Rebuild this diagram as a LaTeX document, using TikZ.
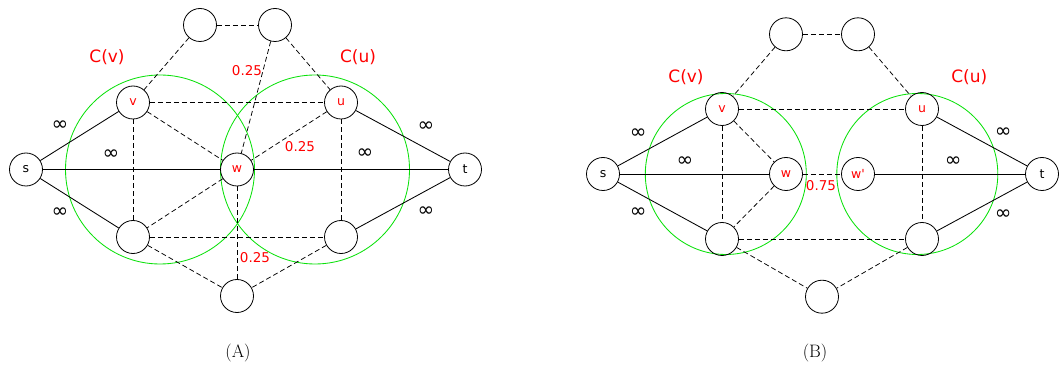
\documentclass[tikz,border=0pt]{standalone}
\usepackage{fontspec}
\newfontfamily\dv{DejaVu Sans}
\definecolor{cgreen}{RGB}{10,225,10}
\begin{document}
\begin{tikzpicture}[x=1pt,y=-1pt,
  vtx/.style={circle,draw,line width=0.8pt,minimum size=33pt,inner sep=0pt,font=\dv\fontsize{12.5}{12.5}\selectfont},
  rv/.style={vtx,text=red},
  dsh/.style={dashed,dash pattern=on 5pt off 3pt,line width=0.75pt},
  sld/.style={line width=0.85pt},
  clus/.style={draw=cgreen,line width=0.85pt},
  clab/.style={text=red,font=\dv\fontsize{17}{17}\selectfont},
  wlab/.style={text=red,font=\dv\fontsize{13.5}{13.5}\selectfont},
  inf/.style={font=\dv\fontsize{20}{20}\selectfont},
  captxt/.style={font=\fontsize{18}{18}\selectfont}]
\useasboundingbox (0,0) rectangle (1063,366);
% ---------- Panel A ----------
\draw[clus] (160,169.5) circle (94.5);
\draw[clus] (315,169.5) circle (94.5);
\node[vtx] (As) at (26,169.5) {s};
\node[rv] (Av) at (133,102.5) {v};
\node[rv] (Au) at (341,102.5) {u};
\node[rv] (Aw) at (237,169.5) {w};
\node[vtx] (At) at (465,169.5) {t};
\node[vtx] (Abl) at (133,237) {};
\node[vtx] (Abr) at (341,237) {};
\node[vtx] (Ab) at (237,296) {};
\node[vtx] (Atl) at (200,25) {};
\node[vtx] (Atr) at (275,25) {};
\draw[dsh] (Atl) -- (Atr);
\draw[dsh] (Atl) -- (Av);
\draw[dsh] (Atr) -- (Au);
\draw[dsh] (Atr) -- (Aw);
\draw[dsh] (Av) -- (Au);
\draw[dsh] (Av) -- (Aw);
\draw[dsh] (Av) -- (Abl);
\draw[dsh] (Au) -- (Aw);
\draw[dsh] (Au) -- (Abr);
\draw[dsh] (Aw) -- (Abl);
\draw[dsh] (Aw) -- (Ab);
\draw[dsh] (Abl) -- (Abr);
\draw[dsh] (Abl) -- (Ab);
\draw[dsh] (Abr) -- (Ab);
\draw[sld] (As) -- (Av);
\draw[sld] (As) -- (Aw);
\draw[sld] (As) -- (Abl);
\draw[sld] (Aw) -- (At);
\draw[sld] (Au) -- (At);
\draw[sld] (Abr) -- (At);
\node[clab] (ACv) at (107,57) {C(v)};
\node[clab] (ACu) at (358,57) {C(u)};
\node[inf] (Ai1) at (60,126) {∞};
\node[inf] (Ai2) at (111,155) {∞};
\node[inf] (Ai3) at (60,213) {∞};
\node[inf] (Ai4) at (426,127) {∞};
\node[inf] (Ai5) at (365,154) {∞};
\node[inf] (Ai6) at (426,212) {∞};
\node[wlab] (Aw1) at (247,71) {0.25};
\node[wlab] (Aw2) at (300,147) {0.25};
\node[wlab] (Aw3) at (255,258) {0.25};
\node[captxt] (Acap) at (238,353) {(A)};
% ---------- Panel B ----------
\draw[clus] (725.8,174) circle (80.5);
\draw[clus] (917.3,174) circle (80.5);
\node[vtx] (Bs) at (603,174) {s};
\node[rv] (Bv) at (722,109) {v};
\node[rv] (Bw) at (786,174) {w};
\node[rv] (Bw2) at (858,174) {w'};
\node[rv] (Bu) at (922,109) {u};
\node[vtx] (Bt) at (1042,174) {t};
\node[vtx] (Bbl) at (722,239) {};
\node[vtx] (Bbr) at (922,239) {};
\node[vtx] (Bb) at (822,296.7) {};
\node[vtx] (Btl) at (786,34.3) {};
\node[vtx] (Btr) at (858,34.3) {};
\draw[dsh] (Btl) -- (Btr);
\draw[dsh] (Btl) -- (Bv);
\draw[dsh] (Btr) -- (Bu);
\draw[dsh] (Bv) -- (Bu);
\draw[dsh] (Bv) -- (Bw);
\draw[dsh] (Bv) -- (Bbl);
\draw[dsh] (Bw) -- (Bbl);
\draw[dsh] (Bw) -- (Bw2);
\draw[dsh] (Bu) -- (Bbr);
\draw[dsh] (Bbl) -- (Bbr);
\draw[dsh] (Bbl) -- (Bb);
\draw[dsh] (Bbr) -- (Bb);
\draw[sld] (Bs) -- (Bv);
\draw[sld] (Bs) -- (Bw);
\draw[sld] (Bs) -- (Bbl);
\draw[sld] (Bw2) -- (Bt);
\draw[sld] (Bu) -- (Bt);
\draw[sld] (Bbr) -- (Bt);
\node[clab] (BCv) at (686,76.7) {C(v)};
\node[clab] (BCu) at (969.3,76.7) {C(u)};
\node[inf] (Bi1) at (638.3,134) {∞};
\node[inf] (Bi2) at (685,161.7) {∞};
\node[inf] (Bi3) at (638.3,213) {∞};
\node[inf] (Bi4) at (1003.3,133) {∞};
\node[inf] (Bi5) at (953.3,161.7) {∞};
\node[inf] (Bi6) at (1003.3,215) {∞};
\node[wlab] (Bw3) at (821,185.3) {0.75};
\node[captxt] (Bcap) at (815,353) {(B)};
\end{tikzpicture}
\end{document}
